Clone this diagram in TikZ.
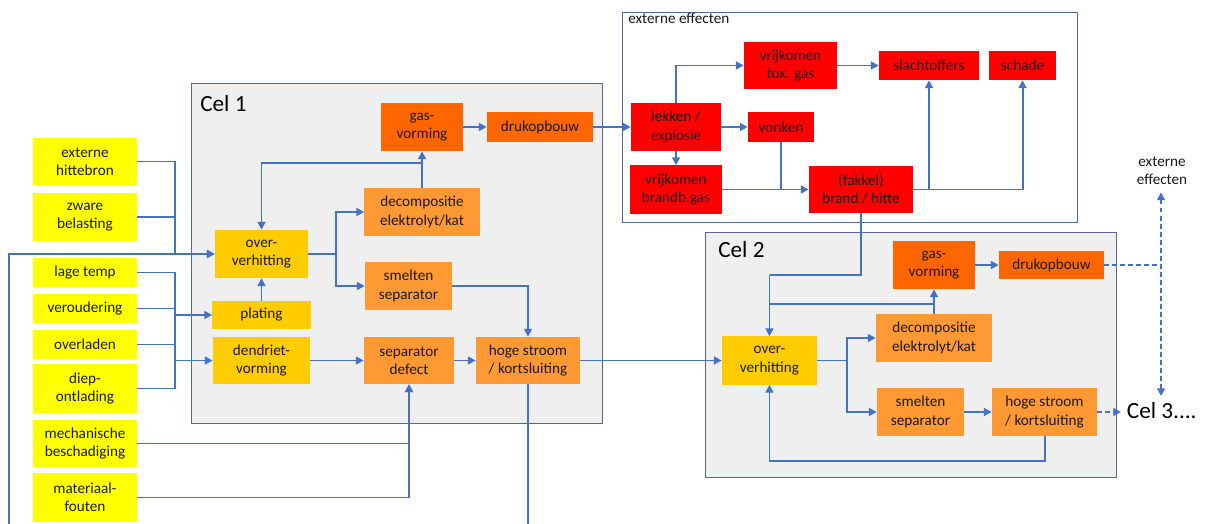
\documentclass[tikz,border=0pt]{standalone}
\usepackage{fontspec}
\setmainfont{Carlito}
\usetikzlibrary{arrows.meta}
\definecolor{linkblue}{RGB}{68,114,196}
\definecolor{cellborder}{RGB}{80,105,150}
\definecolor{cellgray}{RGB}{239,239,239}
\definecolor{causeyellow}{RGB}{255,255,0}
\definecolor{heatgold}{RGB}{255,204,0}
\definecolor{midorange}{RGB}{255,153,51}
\definecolor{darkorange}{RGB}{255,102,0}
\definecolor{firered}{RGB}{255,0,0}

\begin{document}
\begin{tikzpicture}[x=0.025cm, y=-0.025cm,
    every node/.style={font=\fontsize{10.8}{13}\selectfont, text=black!90, inner sep=0pt, align=center},
    celtitle/.style={font=\fontsize{16.5}{19}\selectfont, text=black},
    cellbox/.style={draw=cellborder, fill=cellgray, line width=0.7pt},
    >={Triangle[length=5.5pt,width=5.5pt]},
    link/.style={line width=1.4pt, linkblue},
    flow/.style={->, link},
    dlink/.style={link, dash pattern=on 3.5pt off 2.2pt}]
    \useasboundingbox (0,0) rectangle (1208,524);

    % === Cell frames ===
    \draw[cellbox] (191,83) rectangle (602,423);
    \node[celtitle,anchor=base west] (cel1lbl) at (200,112) {Cel 1};
    \draw[cellbox] (705,232) rectangle (1116,477);
    \node[celtitle,anchor=base west] (cel2lbl) at (718,258) {Cel 2};
    \draw[draw=cellborder,fill=white,line width=0.7pt] (622,12) rectangle (1077,222);
    \node[anchor=base west] (extttl) at (628,24) {externe effecten};

    % === Causes – left column ===
    \node[fill=causeyellow,minimum width=2.6cm,minimum height=1.175cm] (hitte) at (85,161.5) {externe\\hittebron};
    \node[fill=causeyellow,minimum width=2.6cm,minimum height=1.2cm] (zwaar) at (85,217) {zware\\belasting};
    \node[fill=causeyellow,minimum width=2.6cm,minimum height=0.725cm] (lage) at (85,272.5) {lage temp};
    \node[fill=causeyellow,minimum width=2.6cm,minimum height=0.725cm] (oud) at (85,308.5) {veroudering};
    \node[fill=causeyellow,minimum width=2.6cm,minimum height=0.725cm] (over) at (85,344.5) {overladen};
    \node[fill=causeyellow,minimum width=2.6cm,minimum height=1.225cm] (diep) at (85,388.5) {diep-\\ontlading};
    \node[fill=causeyellow,minimum width=2.6cm,minimum height=1.175cm] (mech) at (85,443.5) {mechanische\\beschadiging};
    \node[fill=causeyellow,minimum width=2.6cm,minimum height=1.225cm] (mat) at (85,497.5) {materiaal-\\fouten};

    % === Cel 1 ===
    \node[fill=heatgold,minimum width=2.325cm,minimum height=1.2cm] (c1ovh) at (261.5,254) {over-\\verhitting};
    \node[fill=heatgold,minimum width=2.45cm,minimum height=0.7cm] (c1plat) at (261.5,315) {plating};
    \node[fill=heatgold,minimum width=2.425cm,minimum height=1.175cm] (c1dend) at (261.5,360.5) {dendriet-\\vorming};
    \node[fill=darkorange,minimum width=2.05cm,minimum height=1.2cm] (c1gas) at (422,127) {gas-\\vorming};
    \node[fill=darkorange,minimum width=2.65cm,minimum height=0.725cm] (c1druk) at (540,127) {drukopbouw};
    \node[fill=midorange,minimum width=2.875cm,minimum height=1.2cm] (c1dec) at (422,212) {decompositie\\elektrolyt/kat};
    \node[fill=midorange,minimum width=2.175cm,minimum height=1.2cm] (c1smelt) at (408.5,286) {smelten\\separator};
    \node[fill=midorange,minimum width=2.25cm,minimum height=1.175cm] (c1sep) at (409,360.5) {separator\\defect};
    \node[fill=midorange,minimum width=2.6cm,minimum height=1.175cm] (c1hoog) at (528,360.5) {hoge stroom\\/ kortsluiting};

    % === External effects ===
    \node[fill=firered,minimum width=2.25cm,minimum height=1.175cm] (lek) at (676,127) {lekken /\\explosie};
    \node[fill=firered,minimum width=2.325cm,minimum height=1.175cm] (tox) at (790.5,65.5) {vrijkomen\\tox. gas};
    \node[fill=firered,minimum width=2.5cm,minimum height=0.725cm] (slacht) at (929,65.5) {slachtoffers};
    \node[fill=firered,minimum width=1.675cm,minimum height=0.725cm] (schade) at (1022.5,65.5) {schade};
    \node[fill=firered,minimum width=1.65cm,minimum height=0.725cm] (vonk) at (781,127) {vonken};
    \node[fill=firered,minimum width=2.3cm,minimum height=1.2cm] (brandb) at (676,189.5) {vrijkomen\\brandb.gas};
    \node[fill=firered,minimum width=2.6cm,minimum height=1.175cm] (fakkel) at (861,189.5) {(fakkel)\\brand / hitte};

    % === Cel 2 ===
    \node[fill=darkorange,minimum width=2.05cm,minimum height=1.2cm] (c2gas) at (934,265) {gas-\\vorming};
    \node[fill=darkorange,minimum width=2.625cm,minimum height=0.7cm] (c2druk) at (1051.5,265) {drukopbouw};
    \node[fill=heatgold,minimum width=2.375cm,minimum height=1.2cm] (c2ovh) at (769.5,360.5) {over-\\verhitting};
    \node[fill=midorange,minimum width=2.9cm,minimum height=1.2cm] (c2dec) at (934,338) {decompositie\\elektrolyt/kat};
    \node[fill=midorange,minimum width=2.175cm,minimum height=1.2cm] (c2smelt) at (920.5,412) {smelten\\separator};
    \node[fill=midorange,minimum width=2.625cm,minimum height=1.2cm] (c2hoog) at (1044.5,412) {hoge stroom\\/ kortsluiting};

    % === Right side ===
    \node[celtitle,anchor=base west,inner sep=4pt] (cel3) at (1121,418) {Cel 3....};
    \node (extlbl) at (1162,171) {externe\\effecten};

    % === Helper points ===
    \coordinate (fbin) at (9,524);
    \coordinate (j1) at (175,254);
    \coordinate (j2) at (175,388.5);
    \coordinate (c1split) at (336,254);
    \coordinate (c1fb) at (422,163);
    \coordinate (c1out) at (528,524);
    \coordinate (c2in) at (769.5,275);
    \coordinate (c2fb) at (934,304);
    \coordinate (c2split) at (847,360.5);
    \coordinate (c2loop) at (769.5,461);
    \coordinate (dmid) at (1161,265);

    % === Arrows into Cel 1 ===
    \draw[link] (hitte.east) -| (j1);
    \draw[link] (zwaar.east) -| (j1);
    \draw[flow] (j1) -- (c1ovh.west);
    \draw[flow] (fbin) |- (c1ovh.west);
    \draw[link] (lage.east) -| (j2) -- (diep.east);
    \draw[link] (oud.east) -- (oud.east -| j2);
    \draw[link] (over.east) -- (over.east -| j2);
    \draw[flow] (c1plat.west -| j2) -- (c1plat.west);
    \draw[flow] (c1dend.west -| j2) -- (c1dend.west);
    \draw[flow] (mech.east) -| (c1sep.south);
    \draw[flow] (mat.east) -| (c1sep.south);

    % === Arrows in Cel 1 ===
    \draw[flow] (c1plat.north) -- (c1ovh.south);
    \draw[link] (c1ovh.east) -- (c1split);
    \draw[flow] (c1split) |- (c1dec.west);
    \draw[flow] (c1split) |- (c1smelt.west);
    \draw[flow] (c1dec.north) -- (c1gas.south);
    \draw[flow] (c1fb) -| (c1ovh.north);
    \draw[flow] (c1gas) -- (c1druk);
    \draw[flow] (c1smelt.east) -| (c1hoog.north);
    \draw[flow] (c1dend) -- (c1sep);
    \draw[flow] (c1sep) -- (c1hoog);
    \draw[link] (c1hoog.south) -- (c1out);
    \draw[flow] (c1druk.east) -- (lek.west);
    \draw[flow] (c1hoog.east) -- (c2ovh.west);

    % === Arrows in external effects ===
    \draw[flow] (lek.north) |- (tox.west);
    \draw[flow] (tox) -- (slacht);
    \draw[flow] (lek) -- (vonk);
    \draw[flow] (lek) -- (brandb);
    \draw[flow] (brandb) -- (fakkel);
    \draw[link] (vonk.south) -- (vonk.south |- fakkel.west);
    \draw[flow] (fakkel.east) -| (slacht.south);
    \draw[flow] (fakkel.east) -| (schade.south);

    % === Arrows in Cel 2 ===
    \draw[link] (fakkel.south) |- (c2in);
    \draw[flow] (c2in) -- (c2ovh.north);
    \draw[link] (c2fb) -| (c2ovh.north);
    \draw[flow] (c2dec.north) -- (c2gas.south);
    \draw[flow] (c2gas) -- (c2druk);
    \draw[link] (c2ovh.east) -- (c2split);
    \draw[flow] (c2split) |- (c2dec.west);
    \draw[flow] (c2split) |- (c2smelt.west);
    \draw[flow] (c2smelt) -- (c2hoog);
    \draw[flow] (c2hoog.south) |- (c2loop) -- (c2ovh.south);

    % === Dashed outlets ===
    \draw[dlink,->] (c2hoog.east) -- (c2hoog.east -| cel3.west);
    \draw[dlink] (c2druk.east) -- (dmid);
    \draw[dlink,<->,shorten <=5pt] (dmid |- extlbl.south) -- (dmid |- cel3.north);
\end{tikzpicture}
\end{document}
